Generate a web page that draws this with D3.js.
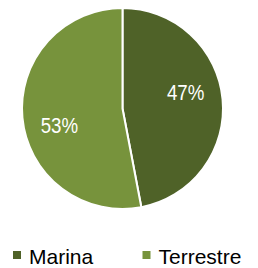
<!DOCTYPE html>
<html>
<head>
<meta charset="utf-8">
<script src="https://cdn.jsdelivr.net/npm/d3@7"></script>
<style>
  body { margin: 0; background: #fff; }
</style>
</head>
<body>
<div id="chart"></div>
<script>
// Chart data
var categories = ["Marina", "Terrestre"];
var values = [47, 53];
var colors = ["#4f6228", "#77933c"];

var width = 258, height = 268;
var cx = 122.5, cy = 108.5, radius = 100.5;

var svg = d3.select("#chart").append("svg")
    .attr("width", width)
    .attr("height", height);

var data = categories.map(function(c, i) { return { name: c, value: values[i], color: colors[i] }; });

// Pie layout, clockwise from 12 o'clock
var pie = d3.pie()
    .value(d => d.value)
    .sort(null);

var arc = d3.arc()
    .innerRadius(0)
    .outerRadius(radius);

var g = svg.append("g")
    .attr("transform", "translate(" + cx + "," + cy + ")");

var slices = pie(data);

g.selectAll("path")
    .data(slices)
    .enter()
    .append("path")
    .attr("d", arc)
    .attr("fill", d => d.data.color)
    .attr("stroke", "#fff")
    .attr("stroke-width", 2)
    .attr("stroke-linejoin", "round");

// Percentage labels, sitting a little counter-clockwise of the slice middle
var labelR = radius * 0.65;
var labelShift = -0.165;
function labelPos(d) {
    var a = (d.startAngle + d.endAngle) / 2 + labelShift;
    return [Math.sin(a) * labelR, -Math.cos(a) * labelR];
}

g.selectAll("text.pct")
    .data(slices)
    .enter()
    .append("text")
    .attr("class", "pct")
    .attr("transform", d => "translate(" + labelPos(d) + ") scale(0.85,1)")
    .attr("text-anchor", "middle")
    .attr("dy", "0.36em")
    .attr("fill", "#fff")
    .style("font-family", "'Liberation Sans', sans-serif")
    .style("font-size", "22px")
    .text(d => d.data.value + "%");

// Legend
var legendX = d3.scalePoint()
    .domain(categories)
    .range([13, 142.5]);

var legend = svg.selectAll("g.legend")
    .data(data)
    .enter()
    .append("g")
    .attr("class", "legend")
    .attr("transform", d => "translate(" + legendX(d.name) + ",251)");

legend.append("rect")
    .attr("width", 8)
    .attr("height", 8)
    .attr("fill", d => d.color);

legend.append("text")
    .attr("x", 16)
    .attr("y", 13)
    .attr("fill", "#000")
    .style("font-family", "'Liberation Sans', sans-serif")
    .style("font-size", "21px")
    .text(d => d.name);
</script>
</body>
</html>
